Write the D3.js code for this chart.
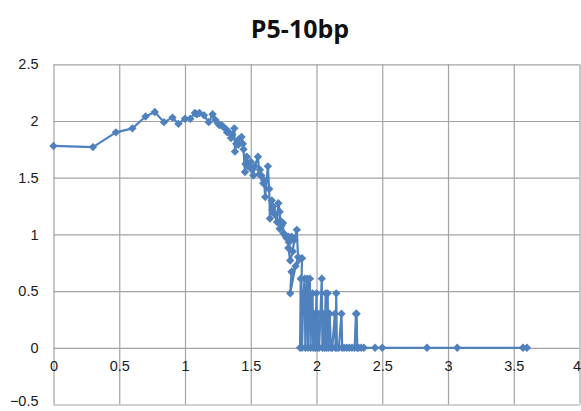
<!DOCTYPE html>
<html>
<head>
<meta charset="utf-8">
<script src="https://cdn.jsdelivr.net/npm/d3@7"></script>
<style>
  html, body { margin: 0; padding: 0; background: #fff; }
  svg { display: block; font-family: "Open Sans", "Liberation Sans", sans-serif; }
  .grid line, .grid path { stroke: #a3a3a3; stroke-width: 1.2; }
  .lab text { font-size: 14.5px; fill: #1a1a1a; }
  .lab path, .lab line { display: none; }
</style>
</head>
<body>
<svg id="chart"></svg>
<script>
// ── DATA ─────────────────────────────────────────────────────
const TITLE = 'P5-10bp';
const xTicks = [0, 0.5, 1, 1.5, 2, 2.5, 3, 3.5, 4];
const yTicks = [-0.5, 0, 0.5, 1, 1.5, 2, 2.5];

// x positions and y values of the series, in data order
const xs = [
  0, 0.30, 0.475, 0.60, 0.70, 0.77, 0.84, 0.905, 0.95, 1.0,
  1.04, 1.075, 1.09, 1.11, 1.145, 1.18, 1.21, 1.23, 1.25, 1.26,
  1.28, 1.29, 1.31, 1.32, 1.33, 1.35, 1.36, 1.375, 1.38, 1.39,
  1.405, 1.41, 1.43, 1.44, 1.445, 1.456, 1.46, 1.47, 1.48, 1.50,
  1.51, 1.52, 1.53, 1.555, 1.565, 1.57, 1.58, 1.595, 1.60, 1.61,
  1.63, 1.64, 1.646, 1.66, 1.665, 1.67, 1.68, 1.70, 1.71, 1.72,
  1.725, 1.72, 1.735, 1.745, 1.75, 1.76, 1.77, 1.786, 1.79, 1.81,
  1.786, 1.80, 1.82, 1.83, 1.85, 1.86, 1.84, 1.80, 1.81, 1.89,
  1.875, 1.88, 1.89, 1.90, 1.91, 1.915, 1.92, 1.93, 1.935, 1.94,
  1.95, 1.955, 1.96, 1.97, 1.975, 1.98, 1.99, 2.0, 2.005, 2.01,
  2.02, 2.03, 2.04, 2.045, 2.05, 2.06, 2.07, 2.075, 2.085, 2.09,
  2.10, 2.11, 2.12, 2.14, 2.145, 2.15, 2.155, 2.17, 2.19, 2.195,
  2.21, 2.23, 2.25, 2.27, 2.29, 2.30, 2.305, 2.31, 2.32, 2.34,
  2.36, 2.445, 2.50, 2.84, 3.07, 3.57, 3.60
];
const ys = [
  1.78, 1.77, 1.90, 1.935, 2.04, 2.08, 1.99, 2.03, 1.975, 2.02,
  2.02, 2.07, 2.06, 2.07, 2.05, 1.99, 2.06, 2.01, 1.98, 1.965,
  1.96, 1.95, 1.93, 1.90, 1.905, 1.85, 1.88, 1.935, 1.73, 1.80,
  1.79, 1.84, 1.86, 1.80, 1.75, 1.55, 1.62, 1.685, 1.60, 1.64,
  1.57, 1.52, 1.60, 1.685, 1.53, 1.57, 1.52, 1.45, 1.48, 1.33,
  1.60, 1.40, 1.14, 1.30, 1.22, 1.245, 1.18, 1.11, 1.275, 1.20,
  1.12, 1.05, 1.08, 1.10, 1.01, 0.995, 0.97, 0.98, 0.93, 0.98,
  0.88, 0.77, 0.85, 0.95, 1.04, 0.80, 0.72, 0.48, 0.67, 0.79,
  0.0, 0.61, 0.0, 0.48, 0.61, 0.0, 0.30, 0.61, 0.0, 0.48,
  0.61, 0.0, 0.30, 0.48, 0.0, 0.30, 0.0, 0.48, 0.0, 0.30,
  0.0, 0.30, 0.61, 0.0, 0.30, 0.0, 0.48, 0.0, 0.48, 0.0,
  0.30, 0.0, 0.0, 0.30, 0.0, 0.48, 0.0, 0.0, 0.30, 0.0,
  0.0, 0.0, 0.0, 0.0, 0.0, 0.30, 0.30, 0.0, 0.0, 0.0,
  0.0, 0.0, 0.0, 0.0, 0.0, 0.0, 0.0
];

// ── SETUP ────────────────────────────────────────────────────
const W = 581, H = 411;
const M = { top: 64.3, right: 1.5, bottom: 6.5, left: 53.5 };
const SERIES = '#4f81bd';

const svg = d3.select('#chart').attr('width', W).attr('height', H);

const x = d3.scaleLinear().domain([0, 4]).range([M.left, W - M.right]);
const y = d3.scaleLinear().domain([-0.5, 2.5]).range([H - M.bottom, M.top]);

// gridlines
svg.append('g').attr('class', 'grid')
  .attr('transform', `translate(0,${H - M.bottom})`)
  .call(d3.axisBottom(x).tickValues(xTicks).tickSize(-(H - M.top - M.bottom)).tickFormat(''))
  .call(g => g.select('.domain').remove());

svg.append('g').attr('class', 'grid')
  .attr('transform', `translate(${M.left},0)`)
  .call(d3.axisLeft(y).tickValues(yTicks).tickSize(-(W - M.left - M.right)).tickFormat(''))
  .call(g => g.select('.domain').remove());

// tick labels: x labels sit under the y=0 line
svg.append('g').attr('class', 'lab')
  .attr('transform', `translate(0,${y(0)})`)
  .call(d3.axisBottom(x).tickValues(xTicks).tickSize(0).tickPadding(13).tickFormat(d3.format('')))
  .call(g => g.selectAll('.tick:last-of-type text').attr('text-anchor', 'end').attr('dx', 1));

svg.append('g').attr('class', 'lab')
  .attr('transform', `translate(${M.left},0)`)
  .call(d3.axisLeft(y).tickValues(yTicks).tickSize(0).tickPadding(15).tickFormat(d3.format('')))
  .call(g => g.selectAll('.tick:first-of-type text').attr('dy', '0.1em'));

// title
svg.append('text')
  .attr('x', 300).attr('y', 38)
  .attr('text-anchor', 'middle')
  .style('font-size', '25px').style('font-weight', 'bold').style('fill', '#111')
  .text(TITLE);

// ── SERIES ───────────────────────────────────────────────────
const pts = xs.map((v, i) => [v, ys[i]]);

svg.append('path')
  .datum(pts)
  .attr('fill', 'none')
  .attr('stroke', SERIES)
  .attr('stroke-width', 2.2)
  .attr('stroke-linejoin', 'round')
  .attr('d', d3.line().x(d => x(d[0])).y(d => y(d[1])));

const diamond = d3.symbol().type(d3.symbolDiamond2).size(45);
svg.append('g').selectAll('path')
  .data(pts)
  .join('path')
  .attr('transform', d => `translate(${x(d[0])},${y(d[1])})`)
  .attr('d', diamond)
  .attr('fill', SERIES);
</script>
</body>
</html>
